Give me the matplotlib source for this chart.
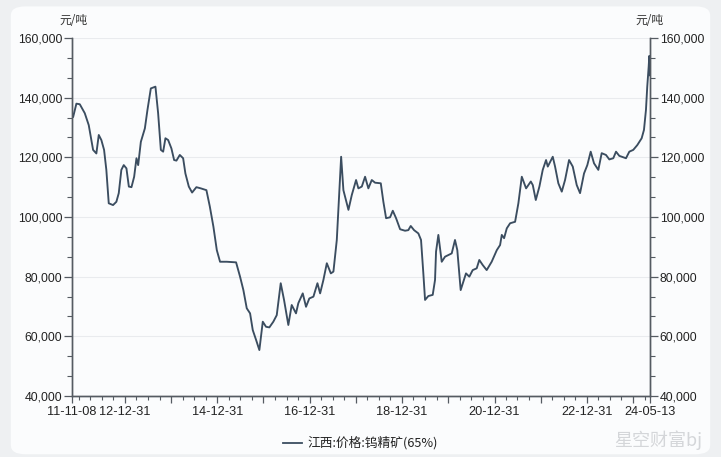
import matplotlib
matplotlib.use('Agg')
import matplotlib.pyplot as plt
import matplotlib.dates as mdates
import matplotlib.patches as patches
from matplotlib.ticker import FixedLocator, FuncFormatter, MultipleLocator
import numpy as np
import pandas as pd

plt.rcParams['font.family'] = ['Liberation Sans', 'Noto Sans CJK SC', 'DejaVu Sans']

# Price of tungsten concentrate (65%), Jiangxi, yuan/ton
years = [2011.853, 2011.875, 2011.946, 2012.020, 2012.128, 2012.214, 2012.308, 2012.379,
         2012.431, 2012.487, 2012.546, 2012.595, 2012.647, 2012.740, 2012.812, 2012.864,
         2012.920, 2012.972, 2013.028, 2013.080, 2013.137, 2013.195, 2013.245, 2013.282,
         2013.340, 2013.427, 2013.483, 2013.556, 2013.656, 2013.714, 2013.773, 2013.823,
         2013.872, 2013.931, 2014.002, 2014.061, 2014.111, 2014.184, 2014.256, 2014.305,
         2014.379, 2014.450, 2014.543, 2014.639, 2014.760, 2014.834, 2014.911, 2014.985,
         2015.056, 2015.201, 2015.403, 2015.489, 2015.561, 2015.634, 2015.706, 2015.764,
         2015.836, 2015.907, 2015.981, 2016.052, 2016.124, 2016.210, 2016.284, 2016.370,
         2016.442, 2016.535, 2016.608, 2016.701, 2016.751, 2016.847, 2016.918, 2016.989,
         2017.076, 2017.163, 2017.221, 2017.292, 2017.366, 2017.453, 2017.509, 2017.582,
         2017.639, 2017.676, 2017.725, 2017.834, 2017.907, 2018.000, 2018.050, 2018.124,
         2018.195, 2018.266, 2018.340, 2018.411, 2018.535, 2018.591, 2018.650, 2018.736,
         2018.795, 2018.866, 2018.953, 2019.061, 2019.132, 2019.184, 2019.256, 2019.349,
         2019.407, 2019.457, 2019.494, 2019.565, 2019.660, 2019.710, 2019.732, 2019.782,
         2019.855, 2019.927, 2020.072, 2020.143, 2020.193, 2020.266, 2020.381, 2020.453,
         2020.526, 2020.613, 2020.669, 2020.743, 2020.829, 2020.937, 2021.046, 2021.117,
         2021.154, 2021.204, 2021.262, 2021.334, 2021.442, 2021.513, 2021.587, 2021.680,
         2021.782, 2021.825, 2021.890, 2021.968, 2022.041, 2022.113, 2022.150, 2022.258,
         2022.308, 2022.379, 2022.453, 2022.524, 2022.611, 2022.691, 2022.777, 2022.849,
         2022.935, 2023.007, 2023.080, 2023.152, 2023.245, 2023.318, 2023.411, 2023.483,
         2023.569, 2023.628, 2023.699, 2023.786, 2023.844, 2023.916, 2024.002, 2024.089,
         2024.184, 2024.234, 2024.277, 2024.305, 2024.336, 2024.349, 2024.363]

prices = [134000, 133500, 138000, 137800, 134800, 130800, 122500, 121300,
          127500, 125800, 122500, 115800, 104600, 104000, 105100, 108000,
          115800, 117400, 116300, 110200, 110000, 113500, 119700, 117400,
          125200, 129700, 135900, 143100, 143700, 134800, 122500, 121900,
          126400, 125800, 123000, 119100, 118900, 120800, 119700, 114600,
          110200, 108200, 110000, 109600, 109000, 103500, 96800, 88900,
          85000, 85000, 84800, 80000, 75500, 69400, 67700, 62100,
          58800, 55400, 64900, 63200, 63000, 64900, 67100, 77800,
          72200, 63800, 70500, 67700, 71100, 74400, 69900, 72700,
          73300, 77800, 74400, 78900, 84500, 81100, 81700, 92300,
          109000, 120200, 109000, 102400, 107400, 112400, 109600, 110200,
          113500, 109600, 112400, 111500, 111300, 105100, 99600, 99900,
          102100, 99600, 95900, 95400, 95600, 97000, 95600, 94500,
          92300, 81100, 72200, 73500, 73900, 78900, 88400, 94000,
          85000, 86700, 87800, 92300, 88900, 75500, 81100, 80000,
          82200, 82800, 85600, 83900, 82200, 85000, 88900, 90600,
          94000, 92900, 96200, 97900, 98400, 104600, 113500, 109600,
          111900, 110700, 105700, 110200, 115800, 119100, 116900, 120200,
          116900, 111300, 108500, 112400, 119100, 116900, 110700, 108000,
          114600, 117400, 121900, 118000, 115800, 121400, 120800, 119300,
          119700, 121900, 120500, 120000, 119700, 121900, 122500, 124100,
          126400, 129200, 135900, 143700, 150400, 154000, 147500]

start_date = '2011-11-08'
end_date = '2024-05-13'
label_dates = ['2011-11-08', '2012-12-31', '2014-12-31', '2016-12-31',
               '2018-12-31', '2020-12-31', '2022-12-31', '2024-05-13']
y_ticks = [40000, 60000, 80000, 100000, 120000, 140000, 160000]
unit = '元/吨'
series_name = '江西:价格:钨精矿(65%)'
watermark = '星空财富bj'


def to_date(t):
    y = int(t)
    return pd.Timestamp(year=y, month=1, day=1) + pd.Timedelta(days=(t - y) * 365.25)


dates = [to_date(t) for t in years]

fig = plt.figure(figsize=(7.21, 4.57), dpi=100)
fig.patch.set_facecolor('#eef0f2')
card = patches.FancyBboxPatch((0.015, 0.006), 0.97, 0.98, transform=fig.transFigure,
                              boxstyle='round,pad=0,rounding_size=0.02',
                              facecolor='#fbfcfd', edgecolor='none', zorder=-10)
fig.patches.append(card)

ax = fig.add_axes([0.0999, 0.1335, 0.8016, 0.7833])
ax.set_facecolor('none')
line_color = '#3b4d60'
ax.plot(dates, prices, color=line_color, lw=1.35, zorder=3)

ax.set_xlim(pd.Timestamp(start_date), pd.Timestamp(end_date))
ax.set_ylim(40000, 160000)

# y axis (both sides)
ax.yaxis.set_major_locator(FixedLocator(y_ticks))
ax.yaxis.set_minor_locator(MultipleLocator(20000 / 3))
ax.yaxis.set_major_formatter(FuncFormatter(lambda v, p: f'{int(v):,}'))
ax.grid(axis='y', which='major', color='#e9ebee', lw=0.8, zorder=0)

ax2 = ax.twinx()
ax2.set_ylim(ax.get_ylim())
ax2.yaxis.set_major_locator(FixedLocator(y_ticks))
ax2.yaxis.set_minor_locator(MultipleLocator(20000 / 3))
ax2.yaxis.set_major_formatter(FuncFormatter(lambda v, p: f'{int(v):,}'))

spine_color = '#555b62'
for a in (ax, ax2):
    a.spines['top'].set_visible(False)
    for s in ('left', 'right', 'bottom'):
        a.spines[s].set_color(spine_color)
        a.spines[s].set_linewidth(1.0)
    a.tick_params(axis='y', which='major', length=6, width=0.9, color=spine_color,
                  labelsize=8.8, labelcolor='#222222', pad=1)
    a.tick_params(axis='y', which='minor', length=3.5, width=0.8, color=spine_color)

# x axis: year ends as major ticks, quarter ends as minor ticks
year_ticks = [pd.Timestamp(start_date)] + [pd.Timestamp(f'{y}-12-31') for y in range(2012, 2024)] \
             + [pd.Timestamp(end_date)]
labels = set(label_dates)
tick_text = [d.strftime('%y-%m-%d') if d.strftime('%Y-%m-%d') in labels else '' for d in year_ticks]
ax.xaxis.set_major_locator(FixedLocator(mdates.date2num(year_ticks)))
ax.set_xticklabels(tick_text)
quarters = pd.date_range('2011-12-31', end_date, freq='QE')
quarters = [q for q in quarters if q.month != 12 or q.year == 2011]
ax.xaxis.set_minor_locator(FixedLocator(mdates.date2num(quarters)))
ax.tick_params(axis='x', which='major', length=5, width=0.9, color=spine_color,
               labelsize=9.2, labelcolor='#222222', pad=2)
ax.tick_params(axis='x', which='minor', length=3, width=0.8, color=spine_color)

# unit labels
fig.text(73 / 721, 1 - 20 / 457, unit, ha='center', va='center', fontsize=8.5,
         family=['Noto Sans CJK SC'], color='#333333')
fig.text(649 / 721, 1 - 20 / 457, unit, ha='center', va='center', fontsize=8.5,
         family=['Noto Sans CJK SC'], color='#333333')

# legend
fig.add_artist(plt.Line2D([283 / 721, 302 / 721], [1 - 443 / 457, 1 - 443 / 457],
                          color=line_color, lw=1.3, transform=fig.transFigure))
fig.text(307 / 721, 1 - 443 / 457, series_name, ha='left', va='center', fontsize=9.2,
         family=['Noto Sans CJK SC', 'DejaVu Sans'], color='#222222')

# watermark
fig.text(614 / 721, 1 - 440 / 457, watermark, ha='left', va='center', fontsize=13,
         family=['Noto Sans CJK SC', 'DejaVu Sans'], color='#d4d6d9')

fig.savefig('out.png', dpi=100, facecolor=fig.get_facecolor())
